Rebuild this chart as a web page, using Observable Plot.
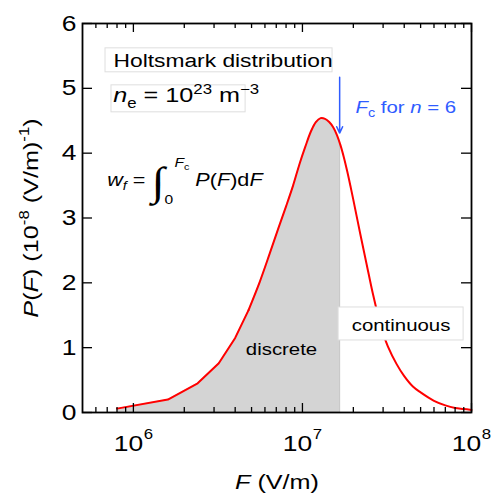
<!DOCTYPE html>
<html><head><meta charset="utf-8">
<script src="https://cdn.jsdelivr.net/npm/d3@7"></script>
<script src="https://cdn.jsdelivr.net/npm/@observablehq/plot@0.6"></script>
<style>html,body{margin:0;padding:0;background:#fff}#chart{width:491px;height:497px;overflow:hidden}</style>
</head><body><div id="chart"></div>
<script>
// ---- data ----
const fieldF = [8e5,1.6e6,2.4e6,3.2e6,4.0e6,4.8e6,5.6e6,6.4e6,7.2e6,8.0e6,8.8e6,9.6e6,1.04e7,1.12e7,1.20e7,1.28e7,1.36e7,1.44e7,1.52e7,1.60e7,1.68e7,1.76e7,1.84e7,1.92e7,2.0e7,2.2e7,2.4e7,2.6e7,2.8e7,3.0e7,3.2e7,3.6e7,4.0e7,4.5e7,5.0e7,6.0e7,7.0e7,8.0e7,9.0e7,1.0e8];
const probP  = [0.06,0.20,0.45,0.76,1.15,1.58,2.02,2.45,2.84,3.18,3.50,3.83,4.10,4.33,4.48,4.54,4.53,4.48,4.40,4.28,4.12,3.93,3.72,3.50,3.28,2.75,2.28,1.85,1.50,1.22,1.02,0.75,0.56,0.40,0.31,0.18,0.11,0.07,0.055,0.04];
const Fc = 1.66e7;
const xMajor = [1e6, 1e7, 1e8];
const xMajorExp = ["6", "7", "8"];
const xMinor = [6e5,7e5,8e5,9e5,2e6,3e6,4e6,5e6,6e6,7e6,8e6,9e6,2e7,3e7,4e7,5e7,6e7,7e7,8e7,9e7];
const yTicks = [0,1,2,3,4,5,6];
const xDomain = [5e5, 1e8];
const yDomain = [0, 6];
// annotation anchors (data units)
const boxX1 = [6.84e5, 7.42e5, 1.636e7];
const boxX2 = [1.507e7, 4.61e6, 8.98e7];
const boxY1 = [5.247, 4.630, 1.111];
const boxY2 = [5.617, 5.046, 1.620];
const arrowP = [5.17, 4.31];

// ---- layout/style ----
const W = 491, H = 497, mL = 82, mR = 20, mT = 23, mB = 85;
const frameW = W - mL - mR, frameH = H - mT - mB;
const FONT = "'Liberation Sans', Arial, Helvetica, sans-serif";
const BLUE = "#2f5cff";
const WIDEN = 1.2;

const curve = fieldF.map((f, i) => ({F: f, P: probP[i]}));
function interpAt(fc) {
  for (let i = 0; i < fieldF.length - 1; i++) {
    if (fieldF[i] <= fc && fc <= fieldF[i + 1]) {
      const t = (Math.log(fc) - Math.log(fieldF[i])) / (Math.log(fieldF[i + 1]) - Math.log(fieldF[i]));
      return probP[i] + t * (probP[i + 1] - probP[i]);
    }
  }
  return 0;
}
const PFc = interpAt(Fc);
const shade = curve.filter(d => d.F < Fc).concat([{F: Fc, P: PFc}]);
const lowPart = curve.filter(d => d.F <= 4.8e6);
const highPart = curve.filter(d => d.F >= 4.8e6);
const boxes = boxX1.map((x, i) => ({x1: x, x2: boxX2[i], y1: boxY1[i], y2: boxY2[i]}));

const svg = Plot.plot({
  width: W, height: H,
  marginLeft: mL, marginRight: mR, marginTop: mT, marginBottom: mB,
  style: {fontFamily: FONT, fontSize: "20px", background: "white", color: "black"},
  x: {type: "log", domain: xDomain, axis: null},
  y: {domain: yDomain, axis: null},
  marks: [
    Plot.areaY(shade, {x: "F", y: "P", fill: "#d4d4d4"}),
    Plot.ruleX([Fc], {y1: 0, y2: PFc, stroke: "#c2c2c2", strokeWidth: 1}),
    Plot.line(lowPart, {x: "F", y: "P", stroke: "#ff0000", strokeWidth: 2}),
    Plot.line(highPart, {x: "F", y: "P", stroke: "#ff0000", strokeWidth: 2, curve: "catmull-rom"}),
    Plot.rect(boxes, {x1: "x1", x2: "x2", y1: "y1", y2: "y2", fill: "white", stroke: "#dedede", strokeWidth: 1}),
    // ticks (inward, all four sides)
    Plot.tickX(xMajor, {x: d => d, insetTop: frameH - 9, stroke: "black", strokeWidth: 1.3}),
    Plot.tickX(xMinor, {x: d => d, insetTop: frameH - 5, stroke: "black", strokeWidth: 1.3}),
    Plot.tickX(xMajor, {x: d => d, insetBottom: frameH - 9, stroke: "black", strokeWidth: 1.3}),
    Plot.tickX(xMinor, {x: d => d, insetBottom: frameH - 5, stroke: "black", strokeWidth: 1.3}),
    Plot.tickY(yTicks, {y: d => d, insetRight: frameW - 10, stroke: "black", strokeWidth: 1.3}),
    Plot.tickY(yTicks, {y: d => d, insetLeft: frameW - 10, stroke: "black", strokeWidth: 1.3}),
    Plot.frame({stroke: "black", strokeWidth: 1.8}),
    // tick labels
    Plot.text(yTicks, {y: d => d, text: d => String(d), frameAnchor: "left", textAnchor: "end", dx: -6, fontSize: 22}),
    Plot.text(xMajor, {x: d => d, text: () => "10", frameAnchor: "bottom", textAnchor: "middle", dx: -5, dy: 38, fontSize: 22}),
    Plot.text(xMajor, {x: d => d, text: (d, i) => xMajorExp[i], frameAnchor: "bottom", textAnchor: "middle", dx: 15, dy: 26, fontSize: 14}),
    // axis titles
    Plot.text(["F (V/m)"], {frameAnchor: "bottom", text: d => d, textAnchor: "middle", dy: 76, fontSize: 21}),
    Plot.text(["P(F) (10-8 (V/m)-1)"], {frameAnchor: "left", text: d => d, textAnchor: "middle", rotate: -90, dx: -51, fontSize: 21}),
    // annotations
    Plot.text(["Holtsmark distribution"], {x: () => 7.63e5, y: () => 5.43, text: d => d, textAnchor: "start", fontSize: 19}),
    Plot.text(["ne = 10^23 m^-3"], {x: () => 7.6e5, y: () => 4.887, text: d => d, textAnchor: "start", fontSize: 21}),
    Plot.text(["wf = int P(F)dF"], {x: () => 7.0e5, y: () => 3.58, text: d => d, textAnchor: "start", fontSize: 18}),
    Plot.text(["Fc for n = 6"], {x: () => 2.06e7, y: () => 4.71, text: d => d, textAnchor: "start", fontSize: 17, fill: BLUE}),
    Plot.text(["discrete"], {x: () => 7.52e6, y: () => 0.972, text: d => d, textAnchor: "middle", fontSize: 17}),
    Plot.text(["continuous"], {x: () => 3.83e7, y: () => 1.343, text: d => d, textAnchor: "middle", fontSize: 17}),
    Plot.arrow([Fc], {x1: d => d, x2: d => d, y1: () => arrowP[0], y2: () => arrowP[1], stroke: BLUE, strokeWidth: 1.5, headLength: 7, headAngle: 50})
  ]
});

function rich(content, parts) {
  const text = Array.from(svg.querySelectorAll("text")).find(t => t.textContent === content);
  if (!text) return;
  while (text.firstChild) text.removeChild(text.firstChild);
  let cur = 0;
  for (const p of parts) {
    const ts = document.createElementNS("http://www.w3.org/2000/svg", "tspan");
    ts.textContent = p.t;
    const s = p.shift || 0;
    if (s !== cur) ts.setAttribute("dy", cur - s);
    cur = s;
    if (p.dx) ts.setAttribute("dx", p.dx);
    if (p.it) ts.setAttribute("font-style", "italic");
    if (p.size) ts.setAttribute("font-size", p.size);
    if (p.font) ts.setAttribute("font-family", p.font);
    text.appendChild(ts);
  }
}
rich("F (V/m)", [{t: "F", it: true}, {t: " (V/m)"}]);
rich("P(F) (10-8 (V/m)-1)", [{t: "P", it: true}, {t: "("}, {t: "F", it: true}, {t: ") (10"}, {t: "-8", size: 14, shift: 9}, {t: " (V/m)"}, {t: "-1", size: 14, shift: 9}, {t: ")"}]);
rich("ne = 10^23 m^-3", [{t: "n", it: true}, {t: "e", size: 14, shift: -6}, {t: " = 10"}, {t: "23", size: 14, shift: 8}, {t: " m"}, {t: "\u22123", size: 14, shift: 8}]);
rich("wf = int P(F)dF", [{t: "w", it: true}, {t: "f", it: true, size: 12, shift: -4}, {t: " = "}, {t: "\u222B", size: 40, it: true, shift: -9, font: "'Liberation Serif'"}, {t: "0", size: 13, shift: -18}, {t: "F", it: true, size: 13, shift: 19, dx: 1}, {t: "c", size: 9, shift: 16}, {t: " "}, {t: "P", it: true}, {t: "("}, {t: "F", it: true}, {t: ")d"}, {t: "F", it: true}]);
rich("Fc for n = 6", [{t: "F", it: true}, {t: "c", size: 12, shift: -4}, {t: " for "}, {t: "n", it: true}, {t: " = 6"}]);

// widen glyphs horizontally (reference font is wider than Helvetica)
svg.querySelectorAll("text").forEach(t => {
  const tr = t.getAttribute("transform") || "";
  t.setAttribute("transform", tr + ` scale(${WIDEN},1)`);
});

document.getElementById("chart").appendChild(svg);
</script>
</body></html>
